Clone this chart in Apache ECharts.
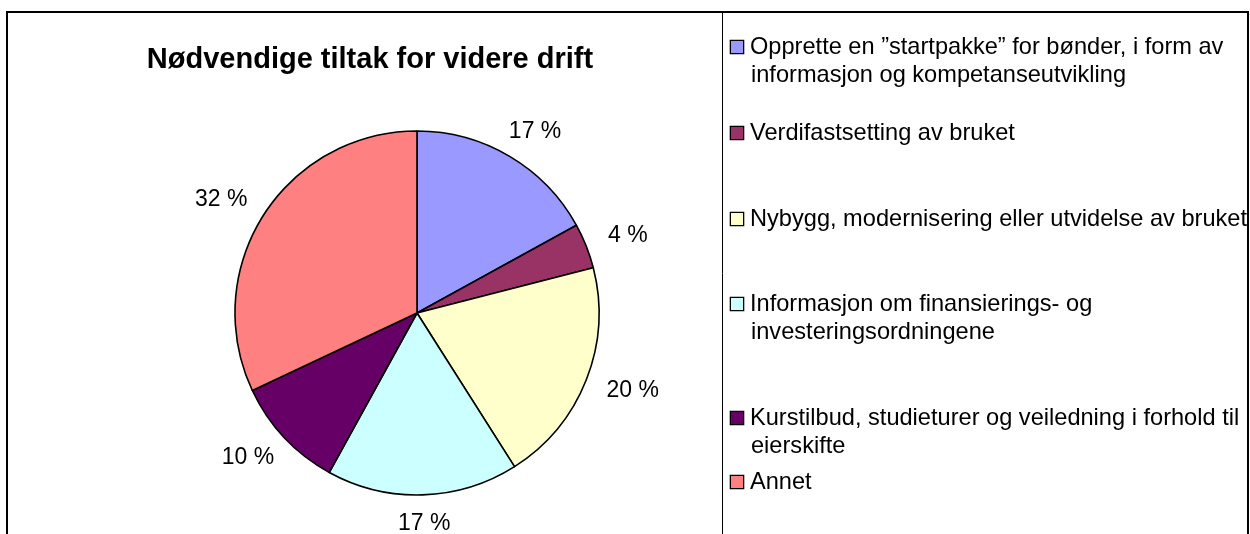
<!DOCTYPE html>
<html>
<head>
<meta charset="utf-8">
<script src="https://cdn.jsdelivr.net/npm/echarts@6/dist/echarts.min.js"></script>
<style>
  html, body { margin: 0; padding: 0; background: #fff; }
  #chart { width: 1250px; height: 534px; }
</style>
</head>
<body>
<div id="chart"></div>
<script>
// data
const categories = [
    'Opprette en ”startpakke” for bønder, i form av\ninformasjon og kompetanseutvikling',
    'Verdifastsetting av bruket',
    'Nybygg, modernisering eller utvidelse av bruket',
    'Informasjon om finansierings- og\ninvesteringsordningene',
    'Kurstilbud, studieturer og veiledning i forhold til\neierskifte',
    'Annet'
];
const values = [17, 4, 20, 17, 10, 32];
const colors = ['#9999FF', '#993366', '#FFFFCC', '#CCFFFF', '#660066', '#FF8080'];

// top of each legend entry (px)
const legendTops = [35, 121, 207, 292, 406, 470];

const FONT = '"Liberation Sans", Arial, sans-serif';

const chart = echarts.init(document.getElementById('chart'));

// mid angle of each slice, clockwise from 12 o'clock
const total = values.reduce((a, b) => a + b, 0);
const midAngles = [];
let acc = 0;
values.forEach(v => {
    midAngles.push((acc + v / 2) / total * Math.PI * 2);
    acc += v;
});

// rich styles for legend squares
const rich = {
    pad: { width: 13 },
    t: { fontSize: 23.6, lineHeight: 28, color: '#000', fontFamily: FONT, padding: [0, 0, 0, 7] }
};
colors.forEach((c, i) => {
    rich['sq' + i] = { width: 12, height: 12, backgroundColor: c, borderColor: '#000', borderWidth: 1.3 };
});

const legends = categories.map((name, i) => ({
    data: [name],
    orient: 'vertical',
    left: 726,
    top: legendTops[i],
    padding: 0,
    icon: 'none',
    itemWidth: 0,
    itemHeight: 0,
    selectedMode: false,
    formatter: function (n) {
        const idx = categories.indexOf(n);
        return n.split('\n').map((line, j) =>
            (j === 0 ? '{sq' + idx + '|}' : '{pad|}') + '{t|' + line + '}'
        ).join('\n');
    },
    textStyle: { rich: rich }
}));

const options = {
    animation: false,
    title: {
        text: 'Nødvendige tiltak for videre drift',
        left: 370,
        top: 45,
        padding: 0,
        textAlign: 'center',
        textStyle: { fontSize: 29, fontWeight: 'bold', color: '#000', fontFamily: FONT }
    },
    legend: legends,
    graphic: [
        {
            type: 'rect',
            shape: { x: 7, y: 12, width: 1241, height: 600 },
            style: { fill: 'none', stroke: '#000', lineWidth: 2 },
            z: 100
        },
        {
            type: 'line',
            shape: { x1: 722.5, y1: 12, x2: 722.5, y2: 540 },
            style: { stroke: '#000', lineWidth: 1 },
            z: 100
        }
    ],
    series: [
        {
            type: 'pie',
            center: [417, 313],
            radius: 182,
            startAngle: 90,
            clockwise: true,
            avoidLabelOverlap: false,
            data: categories.map((n, i) => ({ name: n, value: values[i] })),
            itemStyle: {
                color: function (p) { return colors[p.dataIndex]; },
                borderColor: '#000',
                borderWidth: 1.6
            },
            label: {
                show: true,
                position: 'outside',
                formatter: '{d} %',
                fontSize: 23,
                color: '#000',
                fontFamily: FONT,
                distanceToLabelLine: 0
            },
            labelLine: { show: false, length: 29, length2: 0 },
            // push labels sideways a bit, like the spreadsheet does
            labelLayout: function (params) {
                const s = Math.sin(midAngles[params.dataIndex]);
                return {
                    align: 'center',
                    verticalAlign: 'middle',
                    dx: 0.4 * params.labelRect.width * s
                };
            },
            emphasis: { disabled: true }
        }
    ]
};

chart.setOption(options);
</script>
</body>
</html>
